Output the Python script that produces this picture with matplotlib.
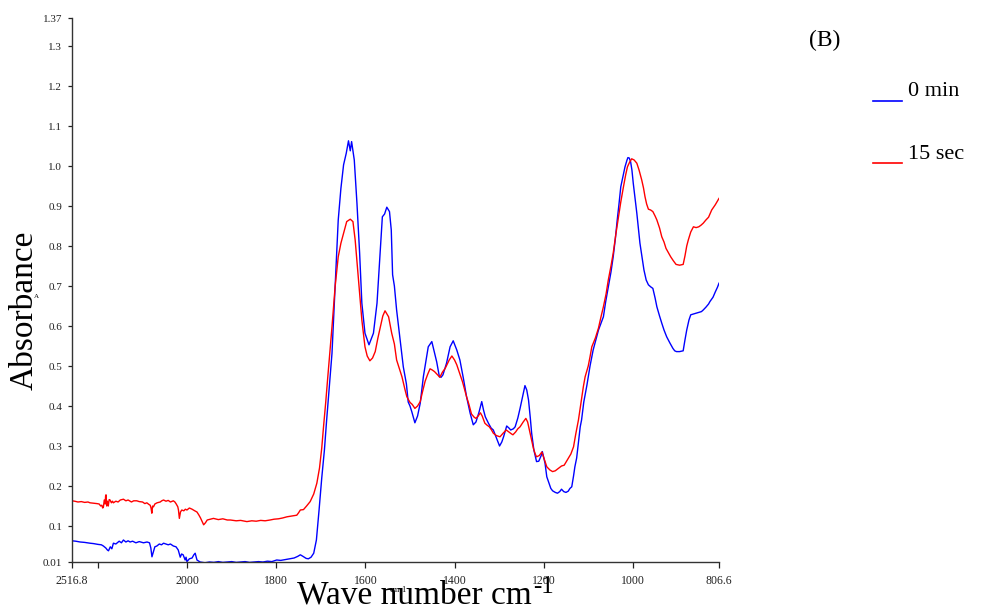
import numpy as np
import matplotlib
matplotlib.use('Agg')
import matplotlib.pyplot as plt
from matplotlib.lines import Line2D

plt.rcParams['font.family'] = ['Liberation Serif', 'DejaVu Serif']

# ---- data (wavenumber cm-1, absorbance) ----
wn_0min = [
    2516.8, 2500, 2480, 2460, 2436, 2420, 2400, 2385, 2376, 2365, 2358, 2353, 2345, 2338,
    2331, 2320, 2305, 2295, 2286, 2275, 2265, 2256, 2245, 2230, 2215, 2196, 2180, 2169,
    2163, 2158, 2152, 2145, 2136, 2125, 2115, 2106, 2095, 2085, 2075, 2062, 2050, 2040,
    2035, 2031, 2025, 2018, 2009, 2005, 2001, 1995, 1989, 1985, 1982, 1978, 1971, 1960,
    1950, 1940, 1930, 1920, 1910, 1900, 1890, 1880, 1870, 1860, 1850, 1840, 1830, 1820,
    1810, 1799, 1790, 1780, 1769, 1760, 1752, 1746, 1740, 1733, 1728, 1722, 1716, 1710,
    1704, 1698, 1692, 1687, 1681, 1675, 1668, 1661, 1655, 1649, 1643, 1638, 1634, 1631,
    1625, 1619, 1613, 1608, 1601, 1592, 1582, 1574, 1567, 1562, 1557, 1552, 1546, 1542,
    1539, 1535, 1530, 1522, 1515, 1508, 1504, 1500, 1496, 1489, 1483, 1477, 1470, 1466,
    1459, 1451, 1444, 1440, 1434, 1430, 1426, 1418, 1410, 1403, 1395, 1388, 1380, 1373,
    1365, 1358, 1352, 1345, 1339, 1335, 1331, 1324, 1318, 1313, 1306, 1299, 1294, 1290,
    1283, 1278, 1274, 1268, 1264, 1258, 1253, 1247, 1242, 1238, 1234, 1230, 1227, 1222,
    1216, 1211, 1206, 1203, 1200, 1197, 1193, 1189, 1184, 1180, 1174, 1169, 1164, 1160,
    1155, 1150, 1145, 1141, 1137, 1133, 1130, 1126, 1121, 1118, 1115, 1110, 1103, 1096,
    1089, 1083, 1077, 1072, 1066, 1061, 1055, 1049, 1044, 1039, 1035, 1031, 1027, 1022,
    1017.5, 1013, 1011, 1008, 1005, 1002, 999, 995, 991, 988, 984, 979, 975, 970,
    965, 960, 955, 950, 946, 940, 935, 930, 924, 917, 910, 906, 902, 895,
    887, 883, 879, 874, 870, 864, 858, 852, 846, 842, 836, 830, 827, 820,
    815, 810, 806.6]
abs_0min = [
    0.063, 0.062, 0.060, 0.059, 0.057, 0.056, 0.054, 0.053, 0.050, 0.045, 0.040, 0.038, 0.048, 0.043,
    0.057, 0.055, 0.062, 0.058, 0.065, 0.060, 0.063, 0.060, 0.062, 0.058, 0.061, 0.058, 0.060, 0.058,
    0.045, 0.023, 0.035, 0.048, 0.050, 0.055, 0.053, 0.057, 0.055, 0.053, 0.055, 0.050, 0.048, 0.040,
    0.030, 0.022, 0.030, 0.028, 0.015, 0.022, 0.011, 0.018, 0.020, 0.028, 0.032, 0.015, 0.010, 0.008,
    0.010, 0.009, 0.011, 0.009, 0.010, 0.011, 0.009, 0.010, 0.011, 0.009, 0.010, 0.011, 0.010, 0.012,
    0.011, 0.015, 0.014, 0.016, 0.018, 0.020, 0.024, 0.028, 0.024, 0.019, 0.018, 0.022, 0.032, 0.065,
    0.140, 0.220, 0.290, 0.365, 0.450, 0.532, 0.698, 0.865, 0.944, 1.003, 1.032, 1.063, 1.038, 1.061,
    1.015, 0.907, 0.782, 0.657, 0.582, 0.553, 0.582, 0.657, 0.782, 0.873, 0.880, 0.897, 0.886, 0.840,
    0.728, 0.700, 0.640, 0.565, 0.498, 0.455, 0.410, 0.400, 0.386, 0.358, 0.375, 0.407, 0.473, 0.500,
    0.548, 0.561, 0.528, 0.510, 0.473, 0.472, 0.478, 0.507, 0.548, 0.563, 0.540, 0.515, 0.468, 0.423,
    0.382, 0.353, 0.360, 0.385, 0.411, 0.390, 0.373, 0.357, 0.345, 0.340, 0.320, 0.300, 0.310, 0.323,
    0.350, 0.345, 0.340, 0.343, 0.348, 0.370, 0.394, 0.425, 0.451, 0.440, 0.415, 0.370, 0.332, 0.290,
    0.261, 0.262, 0.275, 0.286, 0.272, 0.257, 0.223, 0.210, 0.194, 0.188, 0.184, 0.182, 0.186, 0.192,
    0.186, 0.184, 0.187, 0.194, 0.198, 0.225, 0.248, 0.270, 0.320, 0.348, 0.365, 0.410, 0.452, 0.500,
    0.540, 0.565, 0.590, 0.605, 0.623, 0.660, 0.698, 0.735, 0.773, 0.820, 0.865, 0.905, 0.948, 0.975,
    0.998, 1.015, 1.021, 1.020, 1.011, 0.990, 0.957, 0.920, 0.882, 0.850, 0.807, 0.770, 0.740, 0.715,
    0.703, 0.698, 0.694, 0.670, 0.648, 0.625, 0.607, 0.590, 0.573, 0.558, 0.544, 0.538, 0.536, 0.536,
    0.538, 0.565, 0.590, 0.615, 0.628, 0.630, 0.632, 0.634, 0.636, 0.640, 0.647, 0.655, 0.661, 0.672,
    0.685, 0.697, 0.707]

wn_15sec = [
    2516.8, 2505, 2490, 2475, 2460, 2445, 2436, 2420, 2405, 2395, 2388, 2383, 2379, 2376,
    2372, 2368, 2366, 2364, 2361, 2358, 2354, 2350, 2346, 2340, 2335, 2331, 2320, 2310,
    2300, 2286, 2275, 2265, 2250, 2240, 2226, 2215, 2200, 2190, 2181, 2172, 2166, 2162,
    2158.6, 2155, 2151, 2145, 2135, 2121, 2114, 2106, 2095, 2085, 2075, 2062, 2055, 2049,
    2042, 2039, 2035, 2030, 2024, 2015, 2008, 2001, 1995, 1989, 1983, 1978, 1974, 1970,
    1966, 1963, 1959, 1955, 1948, 1941, 1930, 1920, 1910, 1903, 1890, 1880, 1866, 1855,
    1845, 1835, 1825, 1814, 1805, 1795, 1786, 1776, 1765, 1754, 1750, 1746, 1739, 1732,
    1724, 1716, 1709, 1703, 1698, 1694, 1689, 1685, 1680, 1675, 1668, 1661, 1655, 1649,
    1642, 1634, 1628, 1623, 1616, 1608, 1601, 1596, 1590, 1584, 1578, 1572, 1567, 1561,
    1556, 1548, 1541, 1535, 1530, 1523, 1518, 1511, 1507, 1500, 1495, 1489, 1483, 1477,
    1472, 1466, 1460, 1455, 1450, 1445, 1440, 1433, 1427, 1421, 1412, 1406, 1400, 1395,
    1388, 1382, 1373, 1368, 1362, 1356, 1352, 1347, 1342, 1338, 1332, 1327, 1322, 1317,
    1313, 1306, 1298, 1291, 1284, 1278, 1272, 1269, 1263, 1258, 1253, 1246, 1240, 1236,
    1232, 1227, 1223, 1219, 1216, 1210, 1204, 1199, 1193, 1186, 1180, 1174, 1167, 1160,
    1154, 1145, 1139, 1133, 1128, 1122, 1116, 1111, 1107, 1100, 1096, 1092, 1084, 1077,
    1072, 1066, 1060, 1055, 1049, 1044, 1038, 1032, 1027, 1021, 1016, 1012, 1007, 1002.5,
    997, 991, 986, 980, 976, 972.6, 969, 965, 960, 955, 950, 946, 940, 935,
    930, 925.5, 920, 915, 909, 903, 895, 887, 883, 879, 875.5, 870, 864, 858,
    852, 847, 842, 836, 830, 823, 815, 806.6]
abs_15sec = [
    0.163, 0.162, 0.160, 0.161, 0.159, 0.160, 0.158, 0.157, 0.156, 0.155, 0.150, 0.152, 0.145, 0.147,
    0.165, 0.155, 0.175, 0.178, 0.150, 0.162, 0.150, 0.166, 0.165, 0.158, 0.162, 0.158, 0.162, 0.160,
    0.165, 0.167, 0.163, 0.165, 0.160, 0.163, 0.163, 0.161, 0.160, 0.156, 0.158, 0.154, 0.152, 0.145,
    0.132, 0.150, 0.148, 0.155, 0.158, 0.160, 0.163, 0.165, 0.162, 0.164, 0.160, 0.163, 0.160, 0.155,
    0.148, 0.140, 0.119, 0.135, 0.140, 0.138, 0.142, 0.140, 0.145, 0.142, 0.138, 0.135, 0.128, 0.120,
    0.110, 0.103, 0.108, 0.115, 0.117, 0.119, 0.116, 0.118, 0.115, 0.115, 0.113, 0.114, 0.111, 0.113,
    0.112, 0.114, 0.113, 0.115, 0.117, 0.118, 0.120, 0.123, 0.125, 0.127, 0.133, 0.140, 0.141, 0.150,
    0.161, 0.180, 0.207, 0.245, 0.295, 0.348, 0.410, 0.465, 0.530, 0.598, 0.698, 0.773, 0.807, 0.832,
    0.861, 0.867, 0.861, 0.815, 0.723, 0.615, 0.548, 0.525, 0.513, 0.520, 0.536, 0.570, 0.595, 0.625,
    0.638, 0.623, 0.582, 0.555, 0.515, 0.490, 0.473, 0.440, 0.423, 0.409, 0.404, 0.394, 0.400, 0.411,
    0.435, 0.462, 0.480, 0.493, 0.490, 0.486, 0.480, 0.472, 0.485, 0.494, 0.515, 0.525, 0.515, 0.503,
    0.480, 0.460, 0.423, 0.405, 0.380, 0.372, 0.369, 0.375, 0.383, 0.375, 0.357, 0.352, 0.348, 0.340,
    0.332, 0.326, 0.323, 0.332, 0.340, 0.335, 0.330, 0.328, 0.335, 0.343, 0.348, 0.360, 0.369, 0.360,
    0.340, 0.315, 0.294, 0.280, 0.273, 0.276, 0.285, 0.268, 0.248, 0.240, 0.236, 0.238, 0.244, 0.250,
    0.252, 0.269, 0.280, 0.298, 0.330, 0.365, 0.410, 0.448, 0.473, 0.500, 0.523, 0.548, 0.570, 0.595,
    0.620, 0.648, 0.680, 0.715, 0.750, 0.782, 0.830, 0.873, 0.910, 0.948, 0.978, 0.998, 1.010, 1.018,
    1.015, 1.007, 0.990, 0.965, 0.945, 0.923, 0.905, 0.892, 0.890, 0.886, 0.875, 0.865, 0.845, 0.823,
    0.810, 0.794, 0.783, 0.773, 0.763, 0.754, 0.752, 0.754, 0.775, 0.800, 0.815, 0.835, 0.848, 0.846,
    0.848, 0.852, 0.857, 0.865, 0.872, 0.890, 0.903, 0.919]

xticks = [2516.8, 2400, 2000, 1800, 1600, 1400, 1200, 1000, 806.6]
xticklabels = ['2516.8', '', '2000', '1800', '1600', '1400', '1200', '1000', '806.6']
yticks = [0.01, 0.1, 0.2, 0.3, 0.4, 0.5, 0.6, 0.7, 0.8, 0.9, 1.0, 1.1, 1.2, 1.3, 1.37]
yticklabels = ['0.01', '0.1', '0.2', '0.3', '0.4', '0.5', '0.6', '0.7', '0.8', '0.9',
               '1.0', '1.1', '1.2', '1.3', '1.37']


# the region above 2000 cm-1 is drawn at half scale
def fwd(x):
    x = np.asarray(x, dtype=float)
    return np.where(x > 2000, 2000 + (x - 2000) / 2.0, x)


def inv(u):
    u = np.asarray(u, dtype=float)
    return np.where(u > 2000, 2000 + (u - 2000) * 2.0, u)


W, H = 984, 610
fig = plt.figure(figsize=(W / 100, H / 100), dpi=100)
ax = fig.add_axes([72 / W, 48 / H, 647 / W, 544 / H])

ax.plot(wn_0min, abs_0min, color='#0000ff', lw=1.0)
ax.plot(wn_15sec, abs_15sec, color='#ff0000', lw=1.0)

ax.set_xscale('function', functions=(fwd, inv))
ax.set_xlim(2516.8, 806.6)
ax.set_ylim(0.01, 1.37)

ax.set_xticks(xticks)
ax.set_xticklabels(xticklabels)
ax.set_yticks(yticks)
ax.set_yticklabels(yticklabels)
ax.minorticks_off()
ax.tick_params(axis='x', direction='out', length=4, width=0.9, pad=5, labelsize=8.5, colors='#222222')
ax.tick_params(axis='y', direction='out', length=3, width=0.9, pad=4, labelsize=8, colors='#222222')

for side in ('top', 'right'):
    ax.spines[side].set_visible(False)
for side in ('left', 'bottom'):
    ax.spines[side].set_color('#333333')
    ax.spines[side].set_linewidth(1.0)

# axis titles (plus the tiny leftover unit labels of the original)
fig.text(33 / W, 1 - 310 / H, 'Absorbance', rotation=90, rotation_mode='anchor',
         ha='center', va='baseline', fontsize=24)
fig.text(36 / W, 1 - 297 / H, 'A', ha='center', va='center', fontsize=5)
fig.text(398 / W, 1 - 590 / H, 'cm-1', ha='center', va='center', fontsize=6)
xlab = fig.text(297 / W, 1 - 603 / H, 'Wave number cm', ha='left', va='baseline', fontsize=24)

# superscript "-1" placed right after the x title
fig.canvas.draw()
bb = xlab.get_window_extent()
fig.text((bb.x1 + 1) / W, 1 - 593 / H, '-1', ha='left', va='baseline', fontsize=18)

# panel tag and legend
fig.text(825 / W, 1 - 40 / H, '(B)', ha='center', va='center', fontsize=17)
fig.add_artist(Line2D([873 / W, 902 / W], [1 - 101 / H] * 2, color='#0000ff', lw=1.2))
fig.text(908 / W, 1 - 92 / H, '0 min', ha='left', va='center', fontsize=16)
fig.add_artist(Line2D([873 / W, 902 / W], [1 - 163 / H] * 2, color='#ff0000', lw=1.2))
fig.text(908 / W, 1 - 155 / H, '15 sec', ha='left', va='center', fontsize=16)

fig.savefig('out.png', dpi=100)
